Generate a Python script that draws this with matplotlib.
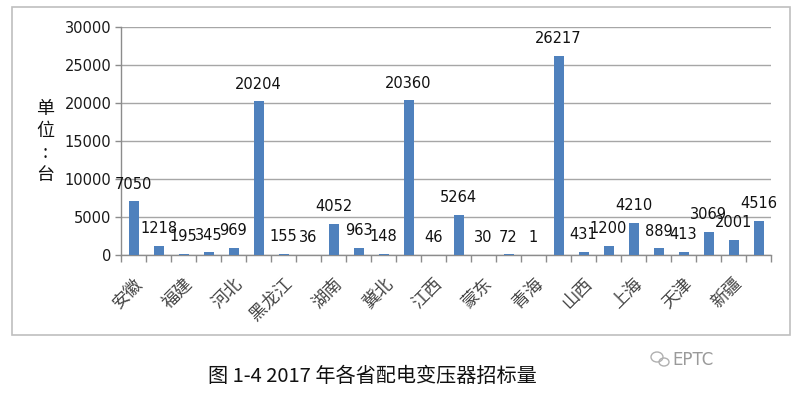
import matplotlib
matplotlib.use("Agg")
import matplotlib.pyplot as plt
from matplotlib.patches import Rectangle, Ellipse
import numpy as np

categories = ["安徽", "北京", "福建", "甘肃", "河北", "河南", "黑龙江", "湖北", "湖南", "吉林",
              "冀北", "江苏", "江西", "辽宁", "蒙东", "宁夏", "青海", "山东", "山西", "陕西",
              "上海", "四川", "天津", "西藏", "新疆", "浙江"]
values = [7050, 1218, 195, 345, 969, 20204, 155, 36, 4052, 963,
          148, 20360, 46, 5264, 30, 72, 1, 26217, 431, 1200,
          4210, 889, 413, 3069, 2001, 4516]
yticks = [0, 5000, 10000, 15000, 20000, 25000, 30000]
ylabel = "单\n位\n:\n台"
title = "图 1-4 2017 年各省配电变压器招标量"
watermark = "EPTC"

plt.rcParams['font.family'] = ['DejaVu Sans', 'Noto Sans CJK SC']
cjk = ['Noto Sans CJK SC', 'DejaVu Sans']

fig = plt.figure(figsize=(8, 3.93), dpi=100)
W, H = 800, 393

# chart area border
fig.add_artist(Rectangle((12 / W, 1 - 335 / H), (790 - 12) / W, (335 - 7) / H,
                         transform=fig.transFigure, fill=False, edgecolor="#BFBFBF", lw=1.2))

ax = fig.add_axes([121 / W, 1 - 255 / H, (771 - 121) / W, (255 - 27) / H])
x = np.arange(len(categories))
ax.bar(x, values, width=0.4, color="#4F81BD", zorder=3)
for xi, v in zip(x, values):
    ax.annotate(str(v), (xi, v), xytext=(0, 7), textcoords="offset points",
                ha="center", va="bottom", fontsize=10.5, color="#111111", zorder=4)

ax.set_xlim(-0.5, len(categories) - 0.5)
ax.set_ylim(0, 30000)
ax.set_yticks(yticks)
ax.set_yticklabels([str(t) for t in yticks], fontsize=10.5, color="#1a1a1a")
ax.yaxis.grid(True, color="#A6A6A6", lw=1.0, zorder=0)
ax.set_xticks(x[::2])
ax.set_xticklabels(categories[::2], rotation=45, ha="right", rotation_mode="anchor",
                   fontsize=12.5, color="#444444", family=cjk)
ax.set_xticks(np.arange(-0.5, len(categories), 1), minor=True)
ax.tick_params(axis="x", which="major", length=0, pad=14)
ax.tick_params(axis="x", which="minor", length=5, color="#8C8C8C", width=1)
ax.tick_params(axis="y", length=4, color="#8C8C8C", width=1, pad=3)
for s in ["top", "right"]:
    ax.spines[s].set_visible(False)
for s in ["left", "bottom"]:
    ax.spines[s].set_color("#8C8C8C")
    ax.spines[s].set_linewidth(1)

fig.text(45 / W, 1 - 142 / H, ylabel, ha="center", va="center", fontsize=13,
         family=cjk, linespacing=1.3, color="#111111", fontweight="medium")
fig.text(372 / W, 1 - 377 / H, title, ha="center", va="center", fontsize=14.5,
         family=cjk, color="#111111")
fig.text(672 / W, 1 - 360 / H, watermark, ha="left", va="center", fontsize=12,
         color="#9A9A9A")
fig.add_artist(Ellipse((657 / W, 1 - 357 / H), 12 / W, 10 / H, transform=fig.transFigure,
                       fill=False, edgecolor="#B0B0B0", lw=1))
fig.add_artist(Ellipse((664 / W, 1 - 362 / H), 10 / W, 8 / H, transform=fig.transFigure,
                       fill=False, edgecolor="#B0B0B0", lw=1))

fig.savefig("out.png", dpi=100)
